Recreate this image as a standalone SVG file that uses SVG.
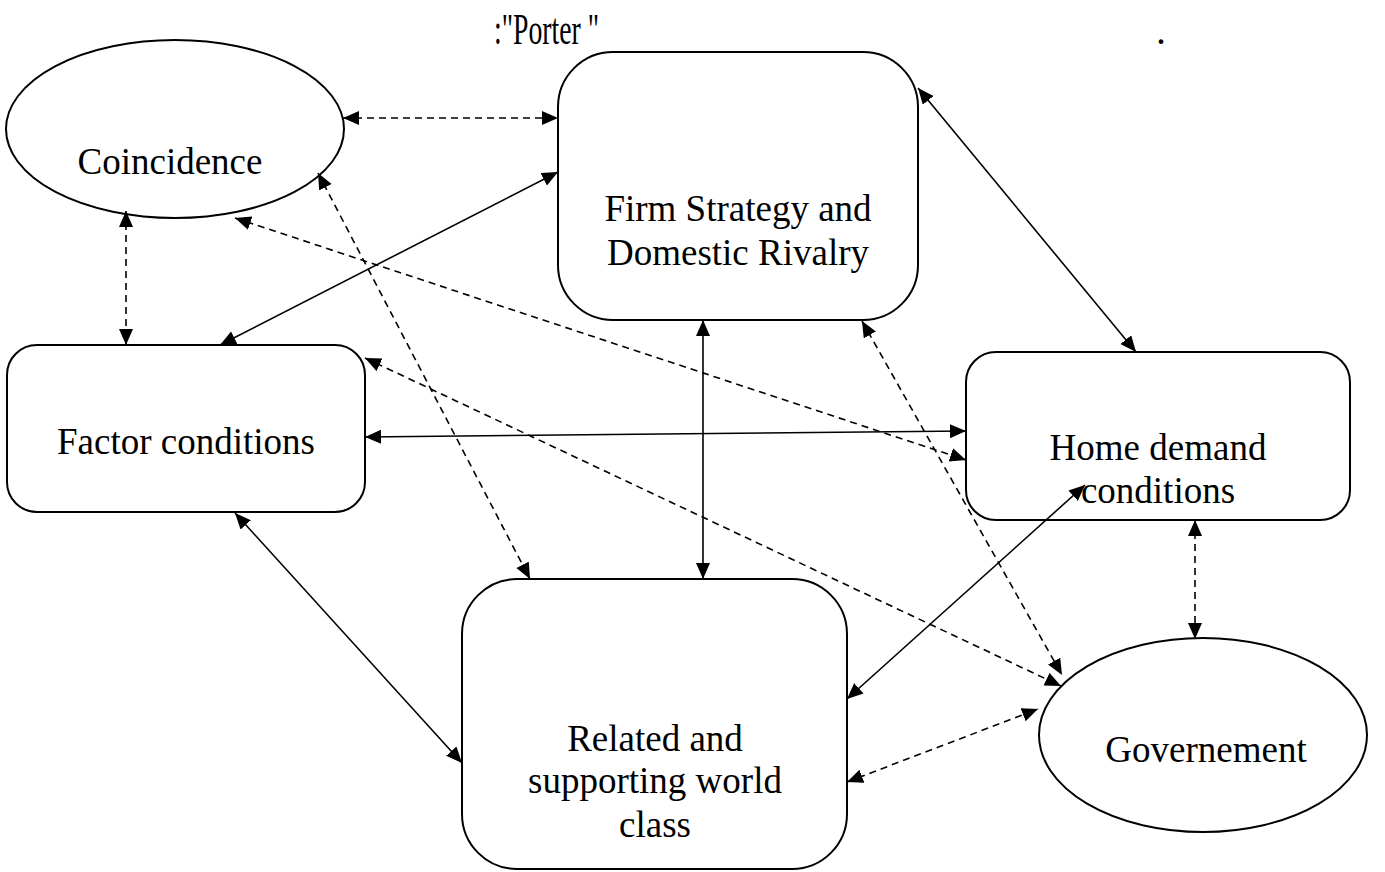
<svg xmlns="http://www.w3.org/2000/svg" width="1385" height="872" viewBox="0 0 1385 872">
  <style>
    .shape { fill: #fff; stroke: #000; stroke-width: 2; }
    .label { font-family: "Liberation Serif", "Times New Roman", serif; font-size: 37px; fill: #000; text-anchor: middle; }
    .link { stroke: #000; stroke-width: 1.6; fill: none; marker-start: url(#tip); marker-end: url(#tip); }
    .dash { stroke-dasharray: 7 5; }
  </style>
  <defs>
    <marker id="tip" markerUnits="userSpaceOnUse" markerWidth="17" markerHeight="15" refX="16" refY="7" orient="auto-start-reverse">
      <path d="M0,0 L16,7 L0,14 z" fill="#000"/>
    </marker>
  </defs>

  <rect width="1385" height="872" fill="#fff"/>

  <!-- heading -->
  <text x="494" y="44" font-family="Liberation Serif, serif" font-size="44" textLength="105" lengthAdjust="spacingAndGlyphs">:"Porter "</text>
  <text x="1156" y="44" font-family="Liberation Serif, serif" font-size="40">.</text>

  <g id="coincidence">
    <ellipse class="shape" cx="175" cy="129" rx="169" ry="89"/>
    <text class="label" x="170" y="174">Coincidence</text>
  </g>

  <g id="firm-strategy">
    <rect class="shape" x="558" y="52" width="360" height="268" rx="55" ry="55"/>
    <text class="label" x="738" y="221">Firm Strategy and</text>
    <text class="label" x="738" y="265">Domestic Rivalry</text>
  </g>

  <g id="factor-conditions">
    <rect class="shape" x="7" y="345" width="358" height="167" rx="30" ry="30"/>
    <text class="label" x="186" y="454">Factor conditions</text>
  </g>

  <g id="home-demand">
    <rect class="shape" x="966" y="352" width="384" height="168" rx="30" ry="30"/>
    <text class="label" x="1158" y="460">Home demand</text>
    <text class="label" x="1158" y="503">conditions</text>
  </g>

  <g id="related-supporting">
    <rect class="shape" x="462" y="579" width="385" height="290" rx="55" ry="55"/>
    <text class="label" x="655" y="751">Related and</text>
    <text class="label" x="655" y="793">supporting world</text>
    <text class="label" x="655" y="837">class</text>
  </g>

  <g id="government">
    <ellipse class="shape" cx="1203" cy="735" rx="164" ry="97"/>
    <text class="label" x="1206" y="762">Governement</text>
  </g>

  <g id="connectors">
    <!-- dashed links -->
    <line class="link dash" x1="343" y1="118" x2="558" y2="118"/>
    <line class="link dash" x1="126" y1="211" x2="126" y2="345"/>
    <line class="link dash" x1="318" y1="173" x2="530" y2="579"/>
    <line class="link dash" x1="235" y1="218" x2="966" y2="460"/>
    <line class="link dash" x1="365" y1="358" x2="1061" y2="686"/>
    <line class="link dash" x1="862" y1="321" x2="1062" y2="675"/>
    <line class="link dash" x1="847" y1="782" x2="1038" y2="709"/>
    <line class="link dash" x1="1195" y1="520" x2="1195" y2="639"/>
    <!-- solid links -->
    <line class="link" x1="558" y1="172" x2="220" y2="345"/>
    <line class="link" x1="365" y1="437" x2="966" y2="431"/>
    <line class="link" x1="703" y1="320" x2="703" y2="579"/>
    <line class="link" x1="918" y1="88" x2="1136" y2="352"/>
    <line class="link" x1="235" y1="513" x2="462" y2="763"/>
    <line class="link" x1="1085" y1="485" x2="847" y2="699"/>
  </g>
</svg>
